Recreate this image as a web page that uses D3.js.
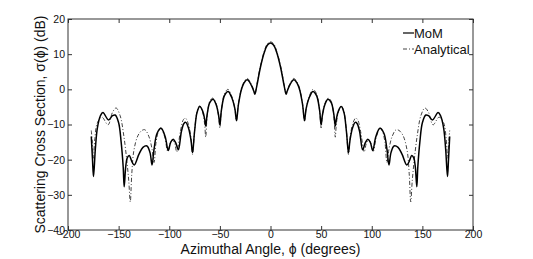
<!DOCTYPE html>
<html>
<head>
<meta charset="utf-8">
<script src="https://cdn.jsdelivr.net/npm/d3@7"></script>
<style>
  body { margin: 0; background: #fff; }
  text { font-family: "Liberation Sans", Arial, sans-serif; fill: #111; }
</style>
</head>
<body>
<div id="chart"></div>
<script>
const width = 533;
const height = 259;
const margin = {top: 19, right: 60, bottom: 29, left: 68};

const xTicks = [-200, -150, -100, -50, 0, 50, 100, 150, 200];
const yTicks = [-40, -30, -20, -10, 0, 10, 20];

// MoM (solid)
const momPhi = [-177, -175.8, -174.8, -173, -171, -168, -165.5, -160, -156, -153.4, -150, -147.5, -145.5, -144.5, -143, -141.5, -139.5, -137, -134.6, -130, -126, -122, -119, -117, -115, -112, -108, -104, -101, -98.5, -96, -93.5, -91, -88, -85.5, -83.7, -81, -78.5, -77, -75, -72.5, -69.8, -67, -65, -64, -62.5, -60, -56.7, -53.5, -51.2, -50, -48.5, -45.5, -41.9, -38.5, -35.2, -33.6, -31.5, -27.5, -23, -19, -16.5, -15.4, -13.5, -10, -6, -3, 0,
  3, 6, 10, 13.5, 15.4, 16.5, 19, 23, 27.5, 31.5, 33.6, 35.2, 38.5, 41.9, 45.5, 48.5, 50, 51.2, 53.5, 56.7, 60, 62.5, 64, 65, 67, 69.8, 72.5, 75, 77, 78.5, 81, 83.7, 85.5, 88, 91, 93.5, 96, 98.5, 101, 104, 108, 112, 115, 117, 119, 122, 126, 130, 134.6, 137, 139.5, 141.5, 143, 144.5, 145.5, 147.5, 150, 153.4, 156, 160, 165.5, 168, 171, 173, 174.8, 175.8, 177];
const momDb = [-13.4, -20, -24.8, -17, -11, -7.5, -6.6, -8.7, -7.5, -7.3, -9.5, -15, -22, -27.7, -22, -19.5, -18.8, -20.5, -21.5, -18.5, -16.5, -16.1, -18, -21.5, -17, -12.5, -11.1, -13.5, -17.4, -15, -14.2, -15.3, -17.2, -12, -9.7, -9.4, -11, -14.5, -18, -12, -6.5, -4.9, -6.2, -8.5, -10.4, -7, -3.8, -2.8, -4.5, -7.5, -10.1, -6, -1.8, -0.6, -2.2, -5.5, -8.9, -4, 1, 2.7, 1.2, -0.5, -1.4, 1.0, 6.2, 10.6, 12.6, 13.2,
  12.6, 10.6, 6.2, 1.0, -1.4, -0.5, 1.2, 2.7, 1, -4, -8.9, -5.5, -2.2, -0.6, -1.8, -6, -10.1, -7.5, -4.5, -2.8, -3.8, -7, -10.4, -8.5, -6.2, -4.9, -6.5, -12, -18, -14.5, -11, -9.4, -9.7, -12, -17.2, -15.3, -14.2, -15, -17.4, -13.5, -11.1, -12.5, -17, -21.5, -18, -16.1, -16.5, -18.5, -21.5, -20.5, -18.8, -19.5, -22, -27.7, -22, -15, -9.5, -7.3, -7.5, -8.7, -6.6, -7.5, -11, -17, -24.8, -20, -13.4];

// Analytical (dash-dot)
const anaPhi = [-177, -176, -175, -173.5, -171, -166.5, -160.5, -156, -152.5, -148.5, -145, -142, -140, -138.5, -137, -135, -131, -127, -124, -120, -117, -115, -113, -110.5, -108.5, -104.5, -101.5, -98.5, -96.5, -94.5, -92.6, -89, -86, -84, -81, -78.5, -77, -75, -72.5, -70, -67, -65, -64, -62.5, -60, -57, -53.5, -51.2, -50, -48.5, -45.5, -42, -38.5, -35.2, -33.6, -31.5, -27.5, -23, -19, -16.5, -15.4, -13.5, -10, -6, -3, 0,
  3, 6, 10, 13.5, 15.4, 16.5, 19, 23, 27.5, 31.5, 33.6, 35.2, 38.5, 42, 45.5, 48.5, 50, 51.2, 53.5, 57, 60, 62.5, 64, 65, 67, 70, 72.5, 75, 77, 78.5, 81, 84, 86, 89, 92.6, 94.5, 96.5, 98.5, 101.5, 104.5, 108.5, 110.5, 113, 115, 117, 120, 124, 127, 131, 135, 137, 138.5, 140, 142, 145, 148.5, 152.5, 156, 160.5, 166.5, 171, 173.5, 175, 176, 177];
const anaDb = [-11.7, -15, -19.6, -14, -9.5, -7.9, -10.1, -6.5, -5.3, -7.5, -13, -20, -26, -32, -24, -17.5, -13.2, -11.7, -11.5, -13.5, -17, -20.8, -15, -11.8, -11, -13.5, -17.6, -15, -14.5, -15.5, -17.8, -12, -8.6, -8.2, -10, -14, -18.5, -11.8, -6.3, -4.7, -6.5, -10, -13.6, -7.5, -3.4, -2.5, -4.2, -7.8, -11, -6, -1.3, 0, -1.8, -5.5, -9, -3.8, 1.3, 3.1, 1.5, -0.3, -1.2, 1.3, 6.6, 11, 13, 13.5,
  13, 11, 6.6, 1.3, -1.2, -0.3, 1.5, 3.1, 1.3, -3.8, -9, -5.5, -1.8, 0, -1.3, -6, -11, -7.8, -4.2, -2.5, -3.4, -7.5, -13.6, -10, -6.5, -4.7, -6.3, -11.8, -18.5, -14, -10, -8.2, -8.6, -12, -17.8, -15.5, -14.5, -15, -17.6, -13.5, -11, -11.8, -15, -20.8, -17, -13.5, -11.5, -11.7, -13.2, -17.5, -24, -32, -26, -20, -13, -7.5, -5.3, -6.5, -10.1, -7.9, -9.5, -14, -19.6, -15, -11.7];

const svg = d3.select("#chart").append("svg")
  .attr("width", width)
  .attr("height", height)
  .style("background", "#fff");

const x = d3.scaleLinear().domain([-200, 200]).range([margin.left, width - margin.right]);
const y = d3.scaleLinear().domain([-40, 20]).range([height - margin.bottom, margin.top]);

const frameColor = "#333";
const fmt = d => d3.format("d")(d).replace("-", "\u2212");

// ticks pointing inward, on all four sides
svg.append("g")
  .attr("transform", `translate(0,${y(-40)})`)
  .call(d3.axisBottom(x).tickValues(xTicks).tickSizeInner(-4).tickSizeOuter(0).tickPadding(1).tickFormat(fmt))
  .call(g => g.select(".domain").remove())
  .call(g => g.selectAll("line").attr("stroke", frameColor))
  .call(g => g.selectAll("text").attr("font-size", 10.5).attr("fill", "#111"));

svg.append("g")
  .attr("transform", `translate(0,${y(20)})`)
  .call(d3.axisTop(x).tickValues(xTicks).tickSizeInner(-4).tickSizeOuter(0).tickFormat(""))
  .call(g => g.select(".domain").remove())
  .call(g => g.selectAll("line").attr("stroke", frameColor));

svg.append("g")
  .attr("transform", `translate(${x(-200)},0)`)
  .call(d3.axisLeft(y).tickValues(yTicks).tickSizeInner(-4).tickSizeOuter(0).tickPadding(3).tickFormat(fmt))
  .call(g => g.select(".domain").remove())
  .call(g => g.selectAll("line").attr("stroke", frameColor))
  .call(g => g.selectAll("text").attr("font-size", 10.5).attr("fill", "#111"));

svg.append("g")
  .attr("transform", `translate(${x(200)},0)`)
  .call(d3.axisRight(y).tickValues(yTicks).tickSizeInner(-4).tickSizeOuter(0).tickFormat(""))
  .call(g => g.select(".domain").remove())
  .call(g => g.selectAll("line").attr("stroke", frameColor));

svg.append("rect")
  .attr("x", x(-200))
  .attr("y", y(20))
  .attr("width", x(200) - x(-200))
  .attr("height", y(-40) - y(20))
  .attr("fill", "none")
  .attr("stroke", frameColor)
  .attr("stroke-width", 1);

const line = d3.line()
  .x(d => x(d[0]))
  .y(d => y(d[1]))
  .curve(d3.curveCatmullRom.alpha(0.5));

svg.append("path")
  .datum(d3.zip(anaPhi, anaDb))
  .attr("d", line)
  .attr("fill", "none")
  .attr("stroke", "#444")
  .attr("stroke-width", 1)
  .attr("stroke-dasharray", "4,2,1,2");

svg.append("path")
  .datum(d3.zip(momPhi, momDb))
  .attr("d", line)
  .attr("fill", "none")
  .attr("stroke", "#000")
  .attr("stroke-width", 1.5);

// legend
const legend = svg.append("g");
legend.append("line")
  .attr("x1", 403).attr("x2", 414).attr("y1", 33).attr("y2", 33)
  .attr("stroke", "#333").attr("stroke-width", 1.5);
legend.append("text")
  .attr("x", 414).attr("y", 38)
  .attr("font-size", 13)
  .text("MoM");
legend.append("line")
  .attr("x1", 403).attr("x2", 414).attr("y1", 49).attr("y2", 49)
  .attr("stroke", "#444").attr("stroke-width", 1)
  .attr("stroke-dasharray", "4,2,1,2");
legend.append("text")
  .attr("x", 414).attr("y", 54)
  .attr("font-size", 13)
  .text("Analytical");

// axis labels
svg.append("text")
  .attr("x", x(0))
  .attr("y", 254)
  .attr("text-anchor", "middle")
  .attr("font-size", 14)
  .text("Azimuthal Angle, \u03d5 (degrees)");

svg.append("text")
  .attr("transform", `translate(40,${(y(20) + y(-40)) / 2}) rotate(-90)`)
  .attr("text-anchor", "middle")
  .attr("dy", "0.35em")
  .attr("font-size", 14)
  .text("Scattering Cross Section, \u03c3(\u03d5) (dB)");
</script>
</body>
</html>
